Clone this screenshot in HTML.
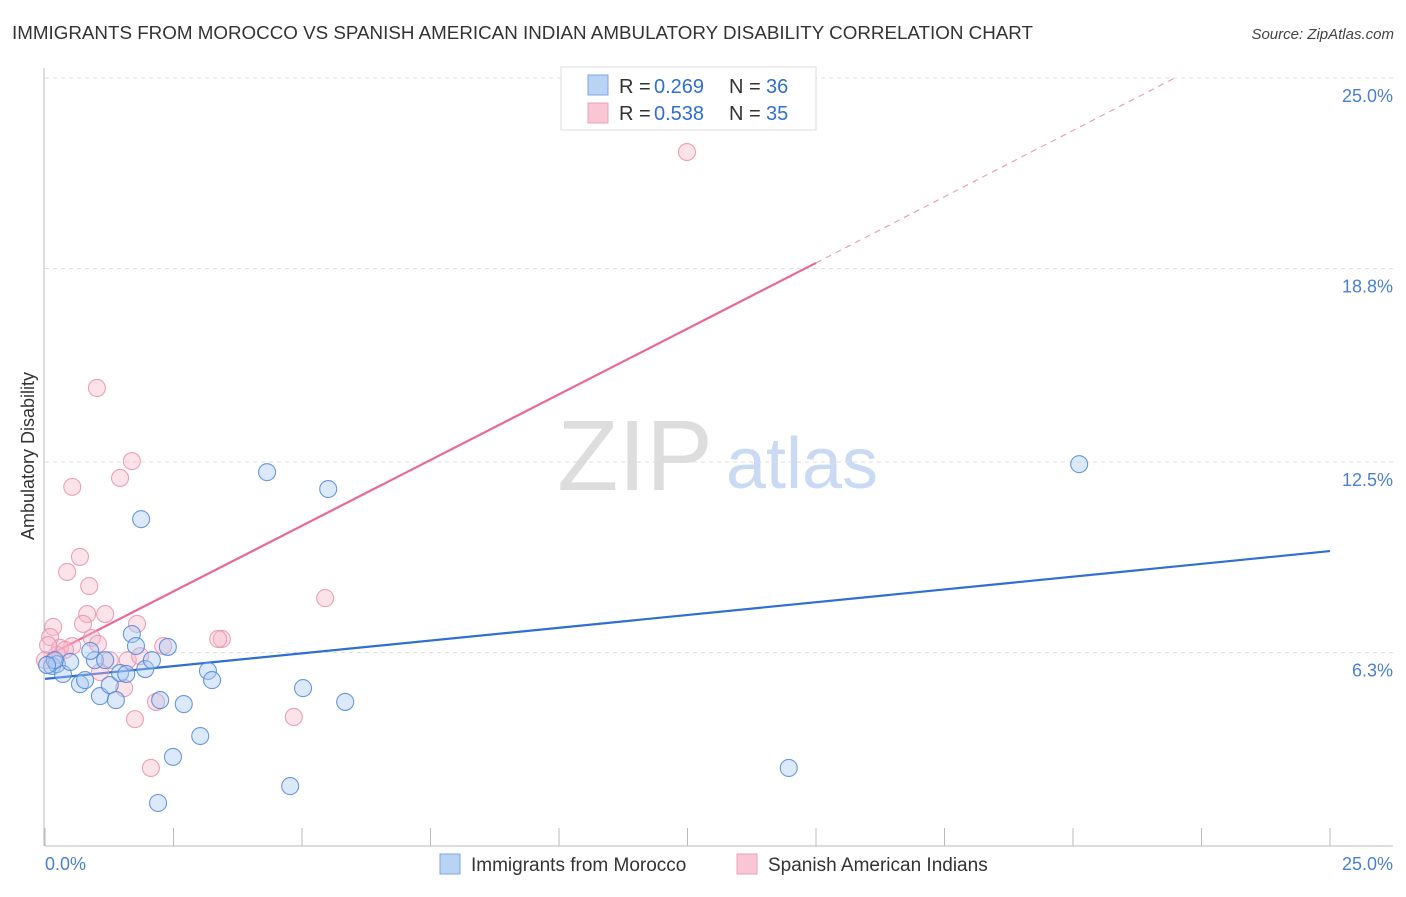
<!DOCTYPE html>
<html><head><meta charset="utf-8"><style>
body{margin:0;background:#fff;font-family:"Liberation Sans",sans-serif;}
svg text{font-family:"Liberation Sans",sans-serif;}
</style></head><body>
<svg id="chart" width="1406" height="892" viewBox="0 0 1406 892" xmlns="http://www.w3.org/2000/svg">
<text x="12" y="39" font-size="18" fill="#333" textLength="1021" lengthAdjust="spacingAndGlyphs">IMMIGRANTS FROM MOROCCO VS SPANISH AMERICAN INDIAN AMBULATORY DISABILITY CORRELATION CHART</text>
<text x="1394" y="39" font-size="15" fill="#444" text-anchor="end" font-style="italic">Source: ZipAtlas.com</text>
<g>
<text x="635" y="490" font-size="100" fill="#ddd" text-anchor="middle" font-family="Liberation Serif,serif">ZIP</text>
<text x="802" y="488" font-size="72" fill="#c9daf2" text-anchor="middle">atlas</text>
</g>
<g id="grid"></g><g id="axes"></g><g id="lines"></g><g id="points"></g>
<text transform="translate(34,456) rotate(-90)" font-size="18" fill="#333" text-anchor="middle">Ambulatory Disability</text>
<text x="45" y="870" font-size="18" fill="#4a7fd4">0.0%</text>
<text x="1393" y="870" font-size="18" fill="#4a7fd4" text-anchor="end">25.0%</text>
<g>
<rect x="561" y="67" width="255" height="63" fill="#fff" stroke="#ddd"/>
<rect x="588" y="75" width="20" height="20" fill="#b9d3f5" stroke="#7ba7e3"/>
<rect x="588" y="103" width="20" height="20" fill="#f9c6d4" stroke="#eba1b8"/>
<text x="619" y="93" font-size="20" fill="#333">R = </text>
<text x="654" y="93" font-size="20" fill="#2f6fd1">0.269</text>
<text x="729" y="93" font-size="20" fill="#333">N = </text>
<text x="766" y="93" font-size="20" fill="#2f6fd1">36</text>
<text x="619" y="120" font-size="20" fill="#333">R = </text>
<text x="654" y="120" font-size="20" fill="#2f6fd1">0.538</text>
<text x="729" y="120" font-size="20" fill="#333">N = </text>
<text x="766" y="120" font-size="20" fill="#2f6fd1">35</text>
</g>
<g>
<rect x="440" y="854" width="20" height="20" fill="#b9d3f5" stroke="#7ba7e3"/>
<text x="471" y="871" font-size="19" fill="#333">Immigrants from Morocco</text>
<rect x="737" y="854" width="20" height="20" fill="#f9c6d4" stroke="#eba1b8"/>
<text x="768" y="871" font-size="19" fill="#333">Spanish American Indians</text>
</g>
</svg>
<script>
const yTicks=[6.3,12.5,18.8,25.0];
const yTickLabels=["6.3%","12.5%","18.8%","25.0%"];
const xTicks=[0,2.5,5,7.5,10,12.5,15,17.5,20,22.5,25];
const blueX=[0.14,0.23,0.35,0.49,0.19,0.68,0.78,0.97,0.88,1.07,1.17,1.26,1.38,1.46,1.58,1.69,1.77,1.95,2.08,2.24,2.39,2.70,3.02,3.17,3.25,4.32,4.77,5.02,5.51,5.84,1.87,2.20,2.49,14.47,20.12,0.04];
const blueY=[5.86,5.92,5.60,5.99,6.05,5.27,5.40,6.05,6.35,4.88,6.05,5.24,4.75,5.63,5.60,6.90,6.51,5.76,6.05,4.75,6.48,4.62,3.58,5.70,5.40,12.17,1.95,5.14,11.62,4.69,10.64,1.40,2.90,2.54,12.43,5.89];
const pinkX=[12.49,1.01,1.69,1.46,0.53,0.68,0.43,0.86,0.82,1.17,0.74,1.79,0.16,0.10,0.91,1.03,0.53,0.29,2.30,3.44,3.37,5.45,1.61,1.26,0.23,1.07,1.54,2.16,1.75,4.84,2.06,0.06,0.39,1.85,0.00];
const pinkY=[22.59,14.91,12.53,11.98,11.69,9.41,8.92,8.46,7.55,7.55,7.23,7.23,7.13,6.80,6.77,6.58,6.51,6.45,6.51,6.74,6.74,8.07,6.05,6.05,6.22,5.66,5.14,4.69,4.13,4.20,2.54,6.54,6.38,6.18,6.05];
const blueTrend=[[0,5.44],[25,9.60]];
const pinkTrendSolid=[[0,6.15],[15,18.98]];
const pinkTrendDash=[[15,18.98],[21.98,25]];

const NS="http://www.w3.org/2000/svg";
const X0=45,X1=1330,Y0=846,PXY=30.72;
function sx(v){return X0+(v/25)*(X1-X0);}
function sy(v){return Y0-v*PXY;}
function mk(tag,attrs,parent){const e=document.createElementNS(NS,tag);for(const k in attrs)e.setAttribute(k,attrs[k]);parent.appendChild(e);return e;}
const grid=document.getElementById('grid'),axes=document.getElementById('axes'),lines=document.getElementById('lines'),pts=document.getElementById('points');
yTicks.forEach((t,i)=>{
  const l=mk('line',{x1:45,x2:1393,y1:sy(t),y2:sy(t),stroke:'#ddd','stroke-dasharray':'4,4'},grid);
  
  
  const tx=mk('text',{x:1393,y:sy(t)+24,'font-size':18,fill:'#4a7fd4','text-anchor':'end'},grid);
  tx.textContent=yTickLabels[i];
  
  
});
const ya=mk('line',{x1:44,x2:44,y1:68,y2:846,stroke:'#bbb'},axes);


const xa=mk('line',{x1:45,x2:1393,y1:846,y2:846,stroke:'#bbb'},axes);


xTicks.forEach(t=>{
  const tk=mk('line',{x1:sx(t),x2:sx(t),y1:828,y2:846,stroke:'#bbb'},axes);
  
  
});
function seg(p,stroke,w,dash,name){
  const a={x1:sx(p[0][0]),y1:sy(p[0][1]),x2:sx(p[1][0]),y2:sy(p[1][1]),stroke:stroke,'stroke-width':w};
  if(dash)a['stroke-dasharray']=dash;
  const l=mk('line',a,lines);
  
  
}
function dots(xs,ys,fill,stroke,name){
  xs.forEach((x,i)=>{
    const c=mk('circle',{cx:sx(x),cy:sy(ys[i]),r:8.5,fill:fill,'fill-opacity':0.4,stroke:stroke,'stroke-opacity':0.85,'stroke-width':1.1},pts);
    
    
  });
}
dots(pinkX,pinkY,'#f7b8cb','#e890ab','point-spanish-american-indians');
dots(blueX,blueY,'#a8c8f2','#4f87d8','point-immigrants-morocco');
seg(blueTrend,'#2f6fd1',2.2,null,'trendline-morocco');
seg(pinkTrendSolid,'#e8689a',2.2,null,'trendline-spanish');
seg(pinkTrendDash,'#eaa0b8',1.2,'6,5','trendline-spanish-extension');
</script>
</body></html>
